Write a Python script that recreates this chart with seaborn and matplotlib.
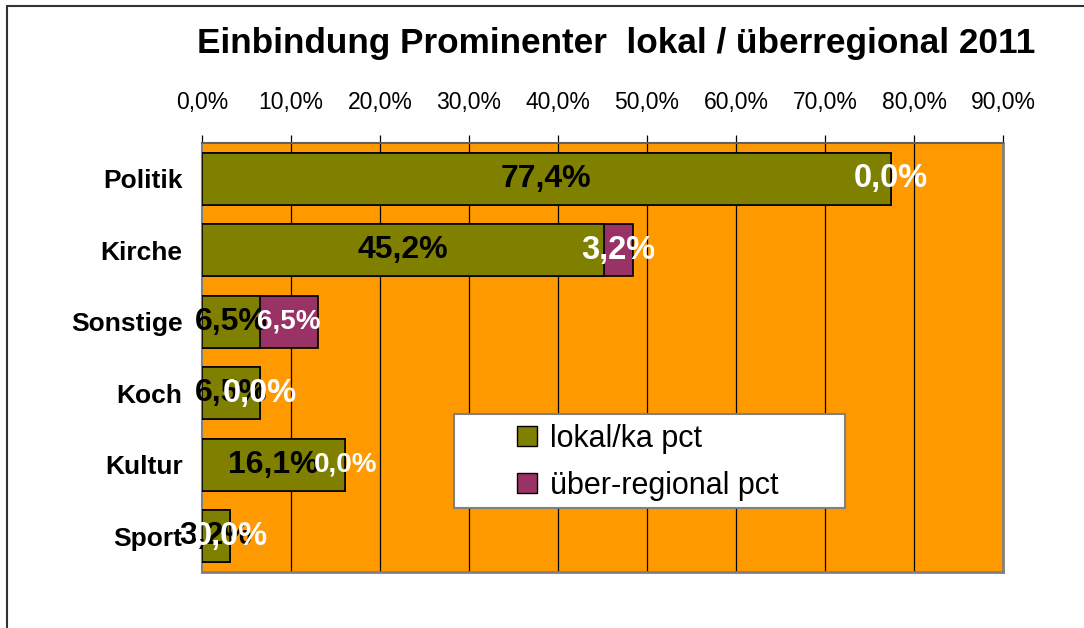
import numpy as np
import pandas as pd
import matplotlib
matplotlib.use("Agg")
import matplotlib.pyplot as plt
from matplotlib.lines import Line2D
from matplotlib.patches import Patch, Rectangle
import seaborn as sns

kategorien = ["Politik", "Kirche", "Sonstige", "Koch", "Kultur", "Sport"]
lokal = [77.4, 45.2, 6.5, 6.5, 16.1, 3.2]
ueberregional = [0.0, 3.2, 6.5, 0.0, 0.0, 0.0]
x_ticks = [0, 10, 20, 30, 40, 50, 60, 70, 80, 90]

sns.set_style("white")
plt.rcParams["font.family"] = ["Liberation Sans", "DejaVu Sans"]
plt.rcParams["text.color"] = "black"
plt.rcParams["xtick.color"] = "black"
plt.rcParams["ytick.color"] = "black"

df = pd.DataFrame({"kat": kategorien, "lokal": lokal, "ueber": ueberregional})
df["summe"] = df["lokal"] + df["ueber"]

fig = plt.figure(figsize=(10.84, 6.28), dpi=100)
ax = fig.add_axes([0.1863, 0.0892, 0.739, 0.683])
ax.set_facecolor("#FF9900")

# gesamt (lila) zuerst, dann lokal (oliv) darueber
sns.barplot(data=df, x="summe", y="kat", orient="h", color="#993366",
            saturation=1, width=0.73, edgecolor="black", linewidth=1.2, ax=ax, zorder=3)
sns.barplot(data=df, x="lokal", y="kat", orient="h", color="#808000",
            saturation=1, width=0.73, edgecolor="black", linewidth=1.2, ax=ax, zorder=4)

ax.set_xlim(0, 90)
ax.set_ylim(5.5, -0.5)
ax.set_xlabel("")
ax.set_ylabel("")

for x in x_ticks[1:-1]:
    ax.axvline(x, color="black", lw=0.9, zorder=1)

ax.xaxis.tick_top()
ax.set_xticks(x_ticks)
ax.set_xticklabels([f"{v:.1f}%".replace(".", ",") for v in x_ticks])
ax.tick_params(axis="x", which="major", direction="out", length=6, width=0.9,
               color="black", labelsize=16.5, pad=15)

ax.set_yticks(range(len(kategorien)))
ax.set_yticklabels(kategorien, fontweight="bold")
ax.tick_params(axis="y", which="major", length=0, labelsize=19, pad=14)
ax.set_yticks(np.arange(-0.5, len(kategorien), 1.0), minor=True)
ax.tick_params(axis="y", which="minor", direction="out", length=6, width=0.9, color="#555555")

for side in ["left", "bottom", "right"]:
    ax.spines[side].set_color("#808080")
    ax.spines[side].set_linewidth(2)
ax.spines["top"].set_color("#606060")
ax.spines["top"].set_linewidth(1.5)
ax.spines["left"].set_linewidth(1.5)

weiss_klein = {"Sonstige": 20, "Kultur": 20}
for i, row in df.iterrows():
    ax.text(row["lokal"] / 2, i, f"{row['lokal']:.1f}%".replace(".", ","),
            ha="center", va="center", fontsize=23, fontweight="bold",
            color="black", zorder=6)
    ax.text(row["lokal"] + row["ueber"] / 2, i, f"{row['ueber']:.1f}%".replace(".", ","),
            ha="center", va="center", fontsize=weiss_klein.get(row["kat"], 23.5),
            fontweight="bold", color="white", zorder=7)

# Legendenkasten
box = Rectangle((0.3146, 0.149), 0.488, 0.219, transform=ax.transAxes,
                facecolor="white", edgecolor="#808080", lw=1.5, zorder=8)
ax.add_patch(box)
handles = [Patch(facecolor="#808000", edgecolor="black", label="lokal/ka pct"),
           Patch(facecolor="#993366", edgecolor="black", label="über-regional pct")]
leg = ax.legend(handles=handles, loc="center left", bbox_to_anchor=(0.393, 0.256),
                fontsize=22, frameon=False, handlelength=0.65, handleheight=0.65,
                handletextpad=0.45, borderpad=0, labelspacing=0.55, borderaxespad=0)
leg.set_zorder(9)

fig.text(0.568, 0.93, "Einbindung Prominenter  lokal / überregional 2011",
         ha="center", va="center", fontsize=25.3, fontweight="bold")

# Rahmen um das Diagramm
fig.add_artist(Line2D([0.0065, 0.0065], [0, 0.99], transform=fig.transFigure, color="#333333", lw=1.5))
fig.add_artist(Line2D([0.0065, 1], [0.99, 0.99], transform=fig.transFigure, color="#333333", lw=1.5))

fig.savefig("out.png", dpi=100)
